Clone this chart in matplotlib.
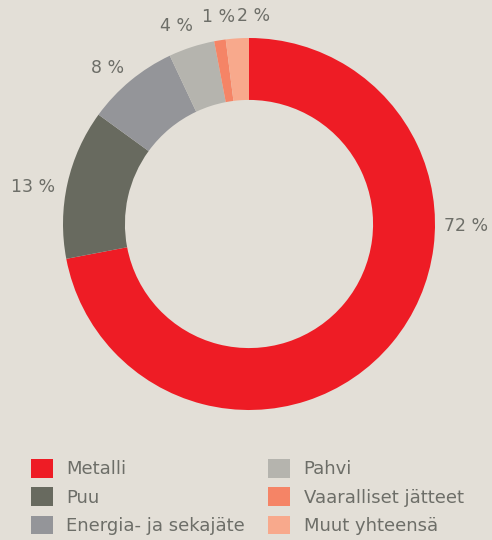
import matplotlib.pyplot as plt

# jätejakeet (%)
jakeet = ['Metalli', 'Puu', 'Energia- ja sekajäte', 'Pahvi',
          'Vaaralliset jätteet', 'Muut yhteensä']
osuudet = [72, 13, 8, 4, 1, 2]
varit = ['#ee1c25', '#686a5f', '#949599', '#b5b4ae', '#f58466', '#f8a98c']

# prosenttitekstien paikat (suhteessa säteeseen)
tekstipaikat = [(1.167, -0.01), (-1.161, 0.199), (-0.758, 0.839),
                (-0.392, 1.065), (-0.161, 1.113), (0.022, 1.118)]

tausta = '#e3dfd7'
tekstivari = '#6d6e68'

plt.rcParams['font.family'] = ['DejaVu Sans']

fig = plt.figure(figsize=(4.92, 5.4), dpi=100)
fig.patch.set_facecolor(tausta)

r_px = 186
ax = fig.add_axes([(249 - r_px) / 492, (316 - r_px) / 540, 2 * r_px / 492, 2 * r_px / 540])
ax.set_facecolor(tausta)

wedges, _ = ax.pie(osuudet, colors=varit, startangle=90, counterclock=False,
                   radius=1, wedgeprops=dict(width=0.333, linewidth=0))
ax.set_xlim(-1, 1)
ax.set_ylim(-1, 1)
ax.set_aspect('equal')
ax.axis('off')

for arvo, (x, y) in zip(osuudet, tekstipaikat):
    ax.text(x, y, f'{arvo} %', ha='center', va='center', fontsize=12.5,
            color=tekstivari, clip_on=False)

leg = fig.legend(wedges, jakeet, ncol=2, loc='upper left',
                 bbox_to_anchor=(31 / 492, 1 - 459 / 540), frameon=False,
                 fontsize=13, handlelength=1.2, handleheight=1.2,
                 handletextpad=0.75, labelspacing=0.5, columnspacing=1.3,
                 borderpad=0, borderaxespad=0)
for t in leg.get_texts():
    t.set_color(tekstivari)

fig.savefig('out.png', dpi=100, facecolor=tausta)
